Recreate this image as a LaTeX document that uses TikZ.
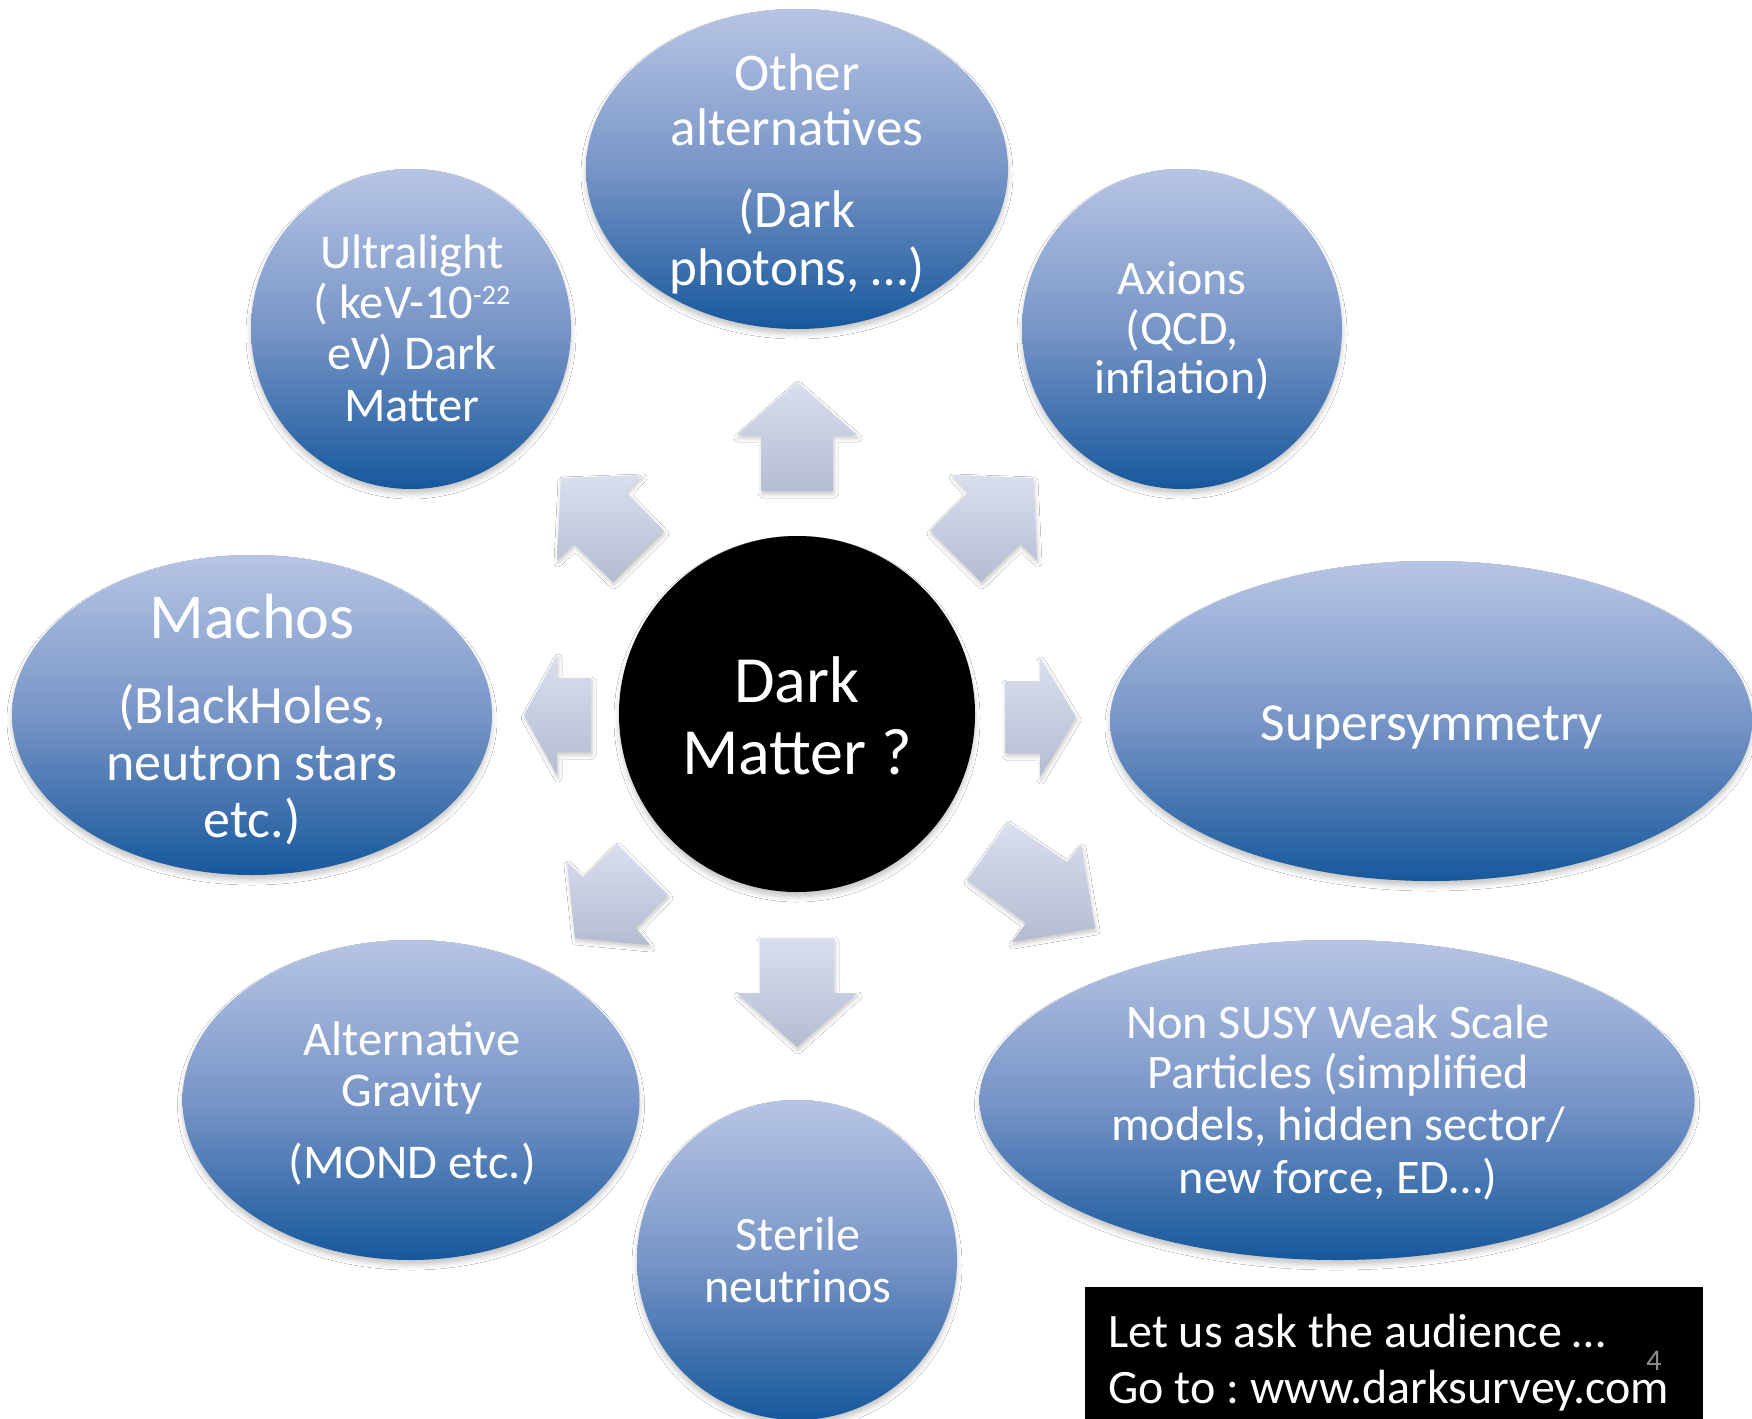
\documentclass[tikz,border=0pt]{standalone}
\usepackage{fontspec}
\setmainfont{Carlito}
\usetikzlibrary{shapes.geometric,shadows.blur}
\frenchspacing

\definecolor{bubtop}{RGB}{183,197,229}
\definecolor{bubmid}{RGB}{120,149,199}
\definecolor{bubbot}{RGB}{22,88,156}
\definecolor{arrtop}{RGB}{218,223,238}
\definecolor{arrbot}{RGB}{180,188,210}
\definecolor{pagenum}{RGB}{140,140,140}

\newcommand\setfs[1]{\fontsize{#1}{#1}\selectfont}

\tikzset{
  bubble/.style={inner sep=0pt, draw=none,
    top color=bubtop, bottom color=bubbot, middle color=bubmid,
    blur shadow={shadow xshift=0pt, shadow yshift=-5pt,
                 shadow blur radius=5pt, shadow opacity=22}},
  core/.style={circle, inner sep=0pt, fill=black,
    blur shadow={shadow xshift=0pt, shadow yshift=-5pt,
                 shadow blur radius=5pt, shadow opacity=22}},
  blockarrow/.style={draw=none, top color=arrtop, bottom color=arrbot,
    blur shadow={shadow xshift=1pt, shadow yshift=-3pt,
                 shadow blur radius=4pt, shadow opacity=22}},
  lbl/.style={text=white, inner sep=0pt, anchor=base},
  boxtxt/.style={text=white, inner sep=0pt, anchor=base west},
}

\begin{document}
\begin{tikzpicture}[x=1pt, y=-1pt]
\useasboundingbox (0,0) rectangle (1752,1418);
\fill[white] (0,0) rectangle (1752,1418);
\clip (0,0) rectangle (1752,1418);

% ---- outer bubbles ----
\node[bubble, ellipse, minimum width=422pt, minimum height=320pt] (other) at (797,169) {};
\node[bubble, circle, minimum size=320pt] (ultra) at (411,329) {};
\node[bubble, circle, minimum size=320pt] (axions) at (1182,329) {};
\node[bubble, ellipse, minimum width=480pt, minimum height=320pt] (machos) at (252,715) {};
\node[bubble, ellipse, minimum width=642pt, minimum height=320pt] (susy) at (1431,721) {};
\node[bubble, ellipse, minimum width=457pt, minimum height=320pt] (altgrav) at (411,1100) {};
\node[bubble, circle, minimum size=320pt] (sterile) at (797,1260) {};
\node[bubble, ellipse, minimum width=715pt, minimum height=320pt] (nonsusy) at (1337,1100) {};

% ---- central node ----
\node[core, minimum size=356pt] (dm) at (797,714) {};

% ---- block arrows radiating from the centre ----
\path[blockarrow] (797,382) -- (857,435) -- (833,435) -- (833,491)
  -- (761,491) -- (761,435) -- (737,435) -- cycle;
\path[blockarrow] (760,938) -- (834,938) -- (834,993) -- (857,993)
  -- (797,1047) -- (737,993) -- (760,993) -- cycle;
\path[blockarrow] (524,715) -- (557,655) -- (557,678) -- (591,678)
  -- (591,752) -- (557,752) -- (557,775) -- cycle;
\path[blockarrow] (1005,681) -- (1040,681) -- (1040,658) -- (1076,717)
  -- (1040,777) -- (1040,753) -- (1005,753) -- cycle;
\path[blockarrow] (561,478) -- (642,475) -- (626,492) -- (664,531)
  -- (613,582) -- (574,544) -- (557,560) -- cycle;
\path[blockarrow] (1033,478) -- (1037,560) -- (1020,544) -- (981,582)
  -- (930,531) -- (968,492) -- (952,475) -- cycle;
\path[blockarrow] (575,938) -- (567,862) -- (583,877) -- (617,844)
  -- (668,895) -- (636,928) -- (650,945) -- cycle;
\path[blockarrow] (1095,928) -- (1012,942) -- (1026,923) -- (967,880)
  -- (1008,822) -- (1067,862) -- (1081,845) -- cycle;

% ---- labels ----
\node[lbl, font=\setfs{66}] (dm-1) at (797,702) {Dark};
\node[lbl, font=\setfs{66}] (dm-2) at (797,774) {Matter ?};

\node[lbl, font=\setfs{53}] (other-1) at (797,91) {Other};
\node[lbl, font=\setfs{53}] (other-2) at (797,146) {alternatives};
\node[lbl, font=\setfs{53}] (other-3) at (797,227) {(Dark};
\node[lbl, font=\setfs{53}] (other-4) at (797,285) {photons, …)};

\node[lbl, font=\setfs{48.5}] (ultra-1) at (412,268) {Ultralight};
\node[lbl, font=\setfs{48.5}] (ultra-2) at (412,318) {( keV-10\raisebox{14pt}{\setfs{28}-22}};
\node[lbl, font=\setfs{48.5}] (ultra-3) at (412,369) {eV) Dark};
\node[lbl, font=\setfs{48.5}] (ultra-4) at (412,421) {Matter};

\node[lbl, font=\setfs{48}] (axions-1) at (1182,294) {Axions};
\node[lbl, font=\setfs{48}] (axions-2) at (1182,344) {(QCD,};
\node[lbl, font=\setfs{48}] (axions-3) at (1182,393) {inflation)};

\node[lbl, font=\setfs{64}] (machos-1) at (252,638) {Machos};
\node[lbl, font=\setfs{54}] (machos-2) at (252,723) {(BlackHoles,};
\node[lbl, font=\setfs{54}] (machos-3) at (252,780) {neutron stars};
\node[lbl, font=\setfs{54}] (machos-4) at (252,837) {etc.)};

\node[lbl, font=\setfs{53.5}] (susy-1) at (1432,740) {Supersymmetry};

\node[lbl, font=\setfs{48.5}] (altgrav-1) at (412,1055) {Alternative};
\node[lbl, font=\setfs{48.5}] (altgrav-2) at (412,1106) {Gravity};
\node[lbl, font=\setfs{48.5}] (altgrav-3) at (412,1178) {(MOND etc.)};

\node[lbl, font=\setfs{48}] (sterile-1) at (798,1250) {Sterile};
\node[lbl, font=\setfs{48}] (sterile-2) at (798,1302) {neutrinos};

\node[lbl, font=\setfs{48.3}] (nonsusy-1) at (1338,1038) {Non SUSY Weak Scale};
\node[lbl, font=\setfs{48.3}] (nonsusy-2) at (1338,1088) {Particles (simplified};
\node[lbl, font=\setfs{48.3}] (nonsusy-3) at (1338,1140) {models, hidden sector/};
\node[lbl, font=\setfs{48.3}] (nonsusy-4) at (1338,1193) {new force, ED…)};

% ---- survey box ----
\node[fill=black, inner sep=0pt, minimum width=618pt, minimum height=160pt,
      anchor=north west] (poll) at (1085,1287) {};
\node[boxtxt, font=\setfs{48}] (poll-1) at (1108,1347) {Let us ask the audience …};
\node[boxtxt, font=\setfs{48}] (poll-2) at (1108,1403) {Go to : www.darksurvey.com};
\node[lbl, text=pagenum, font=\setfs{30}] (page) at (1654,1370) {4};
\end{tikzpicture}
\end{document}
